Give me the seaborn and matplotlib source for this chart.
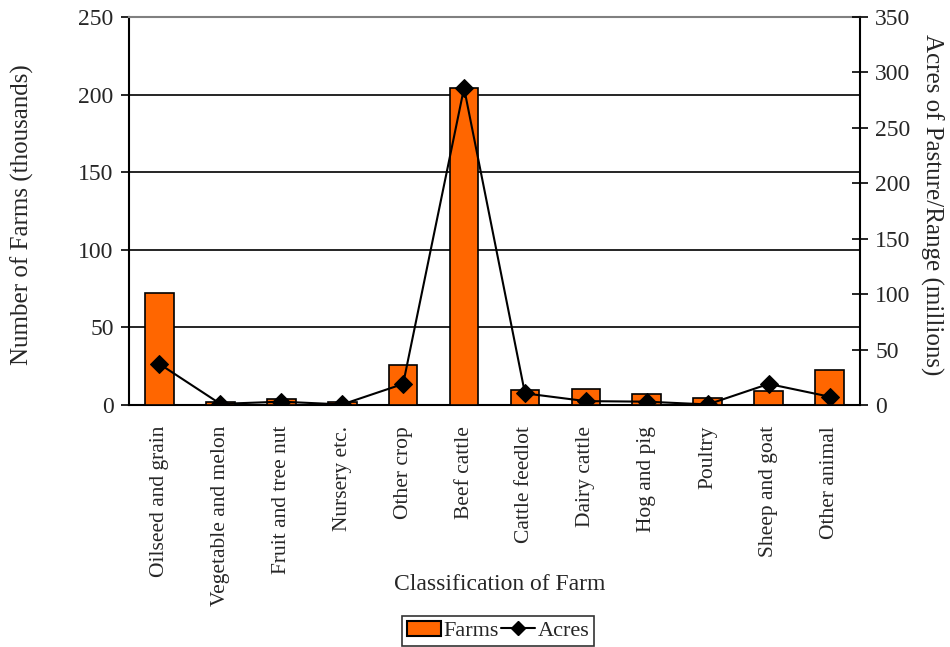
#!/usr/bin/env python3
"""Farms and pasture acres by farm classification: bars + line on twin axis"""

import numpy as np
import pandas as pd
import seaborn as sns
import matplotlib.pyplot as plt
from matplotlib.patches import Patch
from matplotlib.lines import Line2D

# DATA
Categories = ["Oilseed and grain", "Vegetable and melon", "Fruit and tree nut",
              "Nursery etc.", "Other crop", "Beef cattle", "Cattle feedlot",
              "Dairy cattle", "Hog and pig", "Poultry", "Sheep and goat", "Other animal"]
Farms = [72, 2, 4, 2, 26, 204, 9.5, 10.5, 7, 4.3, 9, 22.5]          # thousands
Acres = [37, 1, 3, 0.5, 19, 286, 10.5, 3.5, 3, 0.5, 19, 7.5]         # millions

DataSet = pd.DataFrame({"Category": Categories, "Farms": Farms, "Acres": Acres})

# AESTHETICS
sns.set_theme(style="white")
plt.rcParams['font.family'] = ['Liberation Serif', 'DejaVu Serif']
Orange = "#FF6600"

fig, ax = plt.subplots(figsize=(9.5, 6.47), dpi=100)
fig.subplots_adjust(left=129/950, right=860/950, top=1-17/647, bottom=1-405/647)

# BARS
sns.barplot(data=DataSet, x="Category", y="Farms", order=Categories,
            color=Orange, saturation=1, width=0.47,
            edgecolor="black", linewidth=1.2, ax=ax, zorder=3)
ax.set_ylim(0, 250)
ax.set_xlim(-0.5, len(Categories) - 0.5)
ax.set_yticks(np.arange(0, 251, 50))
for yv in [50, 100, 150, 200]:
    ax.axhline(yv, color="black", lw=1.2, zorder=1)

ax.set_xticks(np.arange(len(Categories) + 1) - 0.5, minor=False)
ax.set_xticklabels([])
ax.set_xticks(np.arange(len(Categories)), minor=True)
ax.set_xticklabels(Categories, minor=True, rotation=90, fontsize=15.5)
ax.tick_params(axis="x", which="major", direction="inout", length=10, width=1.2, color="black")
ax.tick_params(axis="x", which="minor", length=0, pad=15)
ax.tick_params(axis="y", direction="out", length=6, width=1.2, labelsize=17, color="black", left=True, pad=5)
ax.set_xlabel("")
ax.set_ylabel("")

for side in ["left", "bottom", "right"]:
    ax.spines[side].set_color("black")
    ax.spines[side].set_linewidth(1.5)
ax.spines["top"].set_color("#808080")
ax.spines["top"].set_linewidth(1.5)

# LINE ON SECONDARY AXIS
ax2 = ax.twinx()
sns.lineplot(x=np.arange(len(Categories)), y=DataSet["Acres"], ax=ax2,
             color="black", linewidth=1.5, marker="D", markersize=9,
             markeredgecolor="black", zorder=4)
ax2.set_ylim(0, 350)
ax2.set_yticks(np.arange(0, 351, 50))
ax2.tick_params(axis="y", direction="inout", length=12, width=1.2, labelsize=17, color="black", right=True, pad=5)
ax2.set_ylabel("")
for side in ["left", "bottom", "right", "top"]:
    ax2.spines[side].set_visible(False)

# AXIS TITLES
fig.text(500/950, 1-585/647, "Classification of Farm", fontsize=17, ha="center", va="center")
fig.text(22/950, 1-215/647, "Number of Farms (thousands)", fontsize=18,
         rotation=90, ha="center", va="center")
fig.text(932/950, 1-205/647, "Acres of Pasture/Range (millions)", fontsize=18,
         rotation=270, ha="center", va="center")

# LEGEND
handles = [Patch(facecolor=Orange, edgecolor="black", linewidth=1.5),
           Line2D([0], [0], color="black", lw=1.5, marker="D", markersize=7)]
leg = fig.legend(handles, ["Farms", "Acres"], loc="center",
                 bbox_to_anchor=(498/950, 1-631/647), ncol=2, fontsize=16, frameon=True,
                 fancybox=False, edgecolor="black", handlelength=1.55,
                 columnspacing=0.1, handletextpad=0.1, borderpad=0.2)
leg.get_frame().set_linewidth(1.2)

fig.savefig("out.png", dpi=100)
